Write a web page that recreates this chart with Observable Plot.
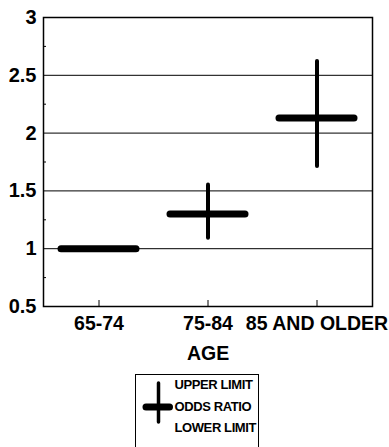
<!DOCTYPE html>
<html>
<head>
<meta charset="utf-8">
<script src="https://cdn.jsdelivr.net/npm/d3@7"></script>
<script src="https://cdn.jsdelivr.net/npm/@observablehq/plot@0.6"></script>
<style>
  html, body { margin: 0; padding: 0; background: #fff; }
  body { width: 389px; height: 447px; overflow: hidden; font-family: "Liberation Sans", Arial, sans-serif; }
  #chart svg { display: block; }
  #legend { position: relative; margin-left: 135px; margin-top: 12px; width: 122px; height: 90px;
            border: 1.5px solid #000; }
  #legend svg { display: block; }
</style>
</head>
<body>
<div id="chart"></div>
<div id="legend"></div>
<script>
const ages = ["65-74", "75-84", "85 AND OLDER"];
const oddsRatio = [1.0, 1.3, 2.13];
const lowerLimit = [null, 1.09, 1.71];
const upperLimit = [null, 1.55, 2.62];
const yTicks = [0.5, 1, 1.5, 2, 2.5, 3];
const yGrid = [1, 1.5, 2, 2.5];
const yMinor = [0.75, 1.25, 1.75, 2.25, 2.75];
const legendLabels = ["UPPER LIMIT", "ODDS RATIO", "LOWER LIMIT"];

const data = ages.map((a, i) => ({age: a, or: oddsRatio[i], lo: lowerLimit[i], hi: upperLimit[i]}));
const ci = data.filter(d => d.lo != null);

const font = '"Liberation Sans", Arial, sans-serif';
const W = 389, H = 362, ML = 43, MR = 17, MT = 17, MB = 56;

const chart = Plot.plot({
  width: W,
  height: H,
  marginLeft: ML,
  marginRight: MR,
  marginTop: MT,
  marginBottom: MB,
  style: {fontFamily: font, fontWeight: "bold", color: "#000", background: "#fff"},
  x: {type: "band", domain: ages, paddingInner: 0.31, paddingOuter: 0.155},
  y: {domain: [0.5, 3]},
  marks: [
    Plot.ruleY(yGrid, {stroke: "#000", strokeWidth: 1}),
    // inward minor ticks on the left edge
    Plot.tickY(yMinor, {y: d => d, stroke: "#000", strokeWidth: 1, insetRight: (W - ML - MR) - 3}),
    // inward ticks on the bottom edge at each category
    Plot.tickX(ages, {x: d => d, stroke: "#000", strokeWidth: 1, insetTop: (H - MT - MB) - 6}),
    Plot.axisY({ticks: yTicks, tickSize: 0, tickPadding: 7, tickFormat: d => String(d), fontSize: 20, fontWeight: "bold", label: null}),
    Plot.axisX({tickSize: 0, tickPadding: 10, fontSize: 19.5, fontWeight: "bold", label: "AGE", labelAnchor: "center", labelArrow: "none"}),
    Plot.ruleX(ci, {x: "age", y1: "lo", y2: "hi", stroke: "#000", strokeWidth: 4, strokeLinecap: "round"}),
    Plot.tickY(data, {x: "age", y: "or", stroke: "#000", strokeWidth: 7, strokeLinecap: "round"}),
    Plot.frame({stroke: "#000", strokeWidth: 1.5})
  ]
});
document.getElementById("chart").append(chart);

// Legend (key) drawn as a small inline SVG
const ns = "http://www.w3.org/2000/svg";
const lg = document.createElementNS(ns, "svg");
lg.setAttribute("width", 122);
lg.setAttribute("height", 90);
const mk = (tag, attrs) => { const e = document.createElementNS(ns, tag); for (const k in attrs) e.setAttribute(k, attrs[k]); lg.appendChild(e); return e; };
mk("line", {x1: 22.5, x2: 22.5, y1: 8, y2: 47, stroke: "#000", "stroke-width": 3.5, "stroke-linecap": "round"});
mk("line", {x1: 10, x2: 33.5, y1: 32, y2: 32, stroke: "#000", "stroke-width": 7, "stroke-linecap": "round"});
legendLabels.forEach((t, i) => {
  const tx = mk("text", {x: 38.5, y: 11 + i * 21.5, "dominant-baseline": "middle", "font-family": font, "font-weight": "bold", "font-size": 13, "letter-spacing": "-0.4"});
  tx.textContent = t;
});
document.getElementById("legend").appendChild(lg);
</script>
</body>
</html>
